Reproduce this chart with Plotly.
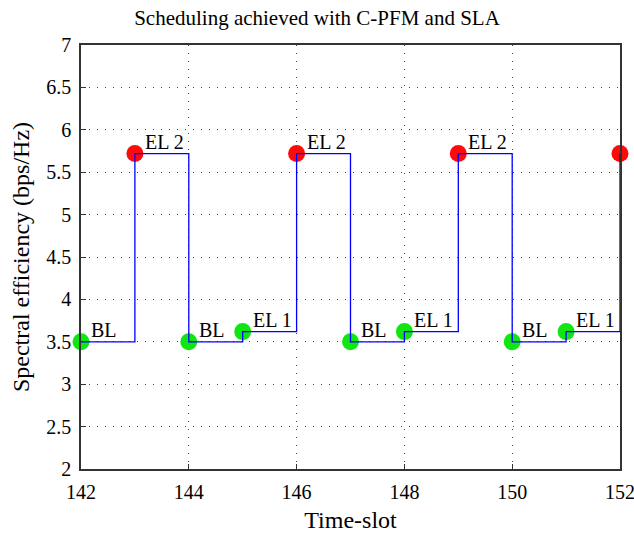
import plotly.graph_objects as go

slots = [142, 143, 144, 145, 146, 147, 148, 149, 150, 151, 152]
efficiency = [3.5, 5.72, 3.5, 3.62, 5.72, 3.5, 3.62, 5.72, 3.5, 3.62, 5.72]
labels = ["BL", "EL 2", "BL", "EL 1", "EL 2", "BL", "EL 1", "EL 2", "BL", "EL 1", ""]
kinds = ["BL", "EL2", "BL", "EL1", "EL2", "BL", "EL1", "EL2", "BL", "EL1", "EL2"]

color_map = {"BL": "#12e612", "EL1": "#12e612", "EL2": "#ff0a0a"}
colors = [color_map[k] for k in kinds]

font_family = "Liberation Serif, Times New Roman, serif"
FS = 20

fig = go.Figure()
fig.add_trace(go.Scatter(
    x=slots, y=efficiency, mode="markers",
    marker=dict(size=17, color=colors, line=dict(width=0)),
    showlegend=False, cliponaxis=False,
))
fig.add_trace(go.Scatter(
    x=slots, y=efficiency, mode="lines", line_shape="hv",
    line=dict(color="#0000ff", width=1.3), showlegend=False, cliponaxis=False,
))

for xv, yv, lab in zip(slots, efficiency, labels):
    if lab:
        fig.add_annotation(x=xv, y=yv, text=lab, showarrow=False,
                           xanchor="left", yanchor="bottom", xshift=8, yshift=-1,
                           font=dict(family=font_family, size=FS, color="black"))

fig.update_layout(
    width=634, height=533,
    margin=dict(l=81, r=14, t=45, b=64),
    paper_bgcolor="white", plot_bgcolor="white",
    font=dict(family=font_family, size=FS, color="black"),
    title=dict(text="Scheduling achieved with C-PFM and SLA", x=0.5, xanchor="center",
               y=1 - 18 / 533, yanchor="middle", font=dict(size=21)),
)
grid = dict(showgrid=True, gridcolor="#444", griddash="1px,7px", gridwidth=1,
            showline=True, linecolor="#333", linewidth=1.5, mirror=True,
            ticks="inside", ticklen=5, tickcolor="#333", zeroline=False,
            tickfont=dict(size=FS), automargin=False, ticklabeloverflow="allow")
fig.update_xaxes(
    range=[142, 152], tickvals=[142, 144, 146, 148, 150, 152],
    ticklabelstandoff=4,
    title=dict(text="Time-slot", standoff=12), **grid,
)
fig.update_yaxes(
    range=[2, 7], tickvals=[2, 2.5, 3, 3.5, 4, 4.5, 5, 5.5, 6, 6.5, 7],
    ticktext=["2", "2.5", "3", "3.5", "4", "4.5", "5", "5.5", "6", "6.5", "7"],
    ticklabelstandoff=4,
    title=dict(text="Spectral efficiency (bps/Hz)", standoff=10), **grid,
)

fig.write_html("out.html")
